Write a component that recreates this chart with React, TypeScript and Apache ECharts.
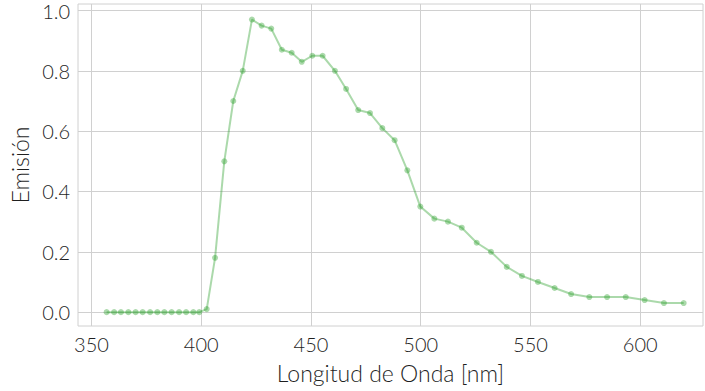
import React, { useEffect, useRef } from "react";
import * as echarts from "echarts";

const wavelength = [356.9, 360.3, 363.4, 366.8, 370.1, 373.3, 376.7, 380.0, 383.2, 386.5, 389.9, 393.1, 396.4, 399.1, 402.5, 406.3, 410.5, 414.6, 418.9, 423.1, 427.5, 431.9, 436.7, 441.2, 445.8, 450.6, 455.3, 460.9, 466.0, 471.5, 476.9, 482.5, 488.1, 493.9, 499.8, 506.2, 512.4, 518.7, 525.5, 532.0, 539.2, 546.1, 553.4, 561.0, 568.5, 576.8, 584.9, 593.4, 602.0, 610.8, 619.8];
const emission = [0, 0, 0, 0, 0, 0, 0, 0, 0, 0, 0, 0, 0, 0, 0.01, 0.18, 0.50, 0.70, 0.80, 0.97, 0.95, 0.94, 0.87, 0.86, 0.83, 0.85, 0.85, 0.80, 0.74, 0.67, 0.66, 0.61, 0.57, 0.47, 0.35, 0.31, 0.30, 0.28, 0.23, 0.20, 0.15, 0.12, 0.10, 0.08, 0.06, 0.05, 0.05, 0.05, 0.04, 0.03, 0.03];
const xTicks = [350, 400, 450, 500, 550, 600];
const yTicks = [0, 0.2, 0.4, 0.6, 0.8, 1.0];

const FONT = "Lato, 'DejaVu Sans', sans-serif";

export default function App() {
  const ref = useRef<HTMLDivElement>(null);
  useEffect(() => {
    if (!ref.current) return;
    const chart = echarts.init(ref.current, null, { renderer: "svg" });
    const gridColor = "#d0d0d0";
    const textColor = "#1f1f1f";
    chart.setOption({
      animation: false,
      backgroundColor: "#ffffff",
      textStyle: { fontFamily: FONT },
      grid: { left: 78, right: 2, top: 4, bottom: 65, outerBoundsMode: "none", containLabel: false, show: true, borderColor: gridColor, borderWidth: 1, backgroundColor: "transparent" },
      xAxis: {
        type: "value",
        min: 343.85,
        max: 628.6,
        name: "Longitud de Onda [nm]",
        nameLocation: "middle",
        nameGap: 35,
        nameTextStyle: { fontFamily: FONT, fontSize: 23, fontWeight: 300, color: textColor },
        axisLine: { show: false },
        axisTick: { show: false, customValues: xTicks },
        axisLabel: { customValues: xTicks, fontFamily: FONT, fontSize: 20, fontWeight: 300, color: textColor, margin: 8, formatter: (v: number) => String(v) },
        splitLine: { show: true, lineStyle: { color: gridColor, width: 1 } },
      },
      yAxis: {
        type: "value",
        min: -0.046,
        max: 1.0216,
        name: "Emisión",
        nameLocation: "middle",
        nameGap: 47,
        nameTextStyle: { fontFamily: FONT, fontSize: 23, fontWeight: 300, color: textColor },
        axisLine: { show: false },
        axisTick: { show: false, customValues: yTicks },
        axisLabel: { customValues: yTicks, fontFamily: FONT, fontSize: 20, fontWeight: 300, color: textColor, margin: 8, formatter: (v: number) => v.toFixed(1) },
        splitLine: { show: true, lineStyle: { color: gridColor, width: 1 } },
      },
      series: [
        {
          type: "line",
          data: wavelength.map((w, i) => [w, emission[i]]),
          symbol: "circle",
          symbolSize: 6,
          showSymbol: true,
          lineStyle: { color: "rgba(44,160,44,0.4)", width: 2 },
          itemStyle: { color: "rgba(44,160,44,0.4)", borderWidth: 0 },
        },
      ],
    });
    return () => chart.dispose();
  }, []);
  return <div ref={ref} style={{ width: 705, height: 391, position: "absolute", left: 0, top: 0 }} />;
}
